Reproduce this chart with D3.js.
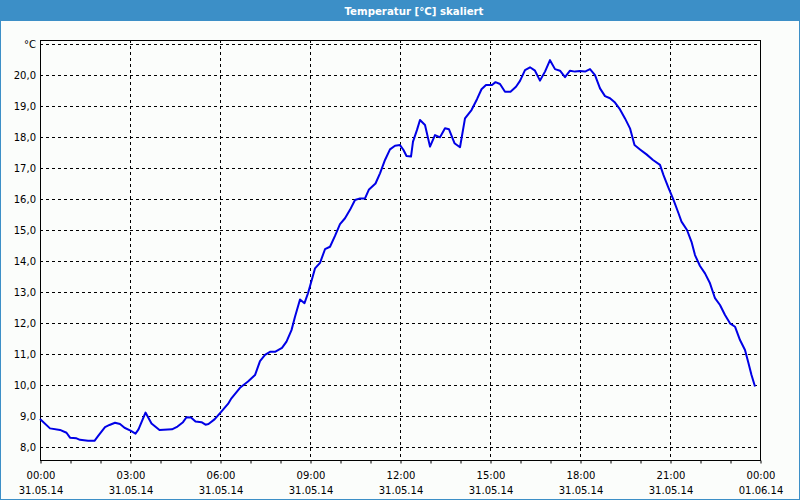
<!DOCTYPE html>
<html><head><meta charset="utf-8">
<script src="https://cdn.jsdelivr.net/npm/d3@7"></script>
<style>html,body{margin:0;padding:0;background:#fbfdfb;}svg{display:block;}</style>
</head><body>
<script>
const title = "Temperatur [°C] skaliert";
const unitLabel = "°C";
const times = ["00:00","00:20","00:40","00:53","01:00","01:13","01:20","01:36","01:49","01:56","02:10","02:19","02:30","02:40","02:49","03:01","03:11","03:17","03:31","03:43","03:59","04:24","04:35","04:46","04:53","05:02","05:11","05:23","05:31","05:37","05:49","06:01","06:16","06:22","06:40","06:56","07:10","07:20","07:30","07:40","07:50","08:04","08:13","08:23","08:30","08:40","08:49","08:56","09:10","09:20","09:30","09:40","09:50","10:00","10:10","10:20","10:30","10:40","10:50","10:58","11:11","11:20","11:30","11:40","11:50","12:00","12:07","12:13","12:22","12:26","12:34","12:40","12:50","13:00","13:10","13:20","13:30","13:38","13:49","14:00","14:10","14:23","14:34","14:43","14:52","15:04","15:11","15:20","15:30","15:41","15:52","16:00","16:10","16:20","16:30","16:40","16:50","17:00","17:10","17:20","17:30","17:40","17:50","18:00","18:10","18:20","18:30","18:40","18:50","19:00","19:10","19:20","19:30","19:40","19:49","20:00","20:13","20:26","20:40","20:47","20:56","21:07","21:17","21:23","21:34","21:43","21:50","22:00","22:10","22:20","22:30","22:40","22:50","23:00","23:10","23:20","23:30","23:37","23:43","23:50"];
const temps = [8.90,8.60,8.55,8.46,8.30,8.28,8.23,8.20,8.20,8.35,8.64,8.71,8.78,8.74,8.62,8.53,8.43,8.57,9.11,8.76,8.55,8.57,8.66,8.80,8.96,8.95,8.82,8.80,8.72,8.74,8.89,9.11,9.39,9.55,9.91,10.11,10.32,10.77,10.97,11.07,11.07,11.20,11.40,11.77,12.20,12.76,12.64,12.96,13.76,13.94,14.38,14.46,14.81,15.19,15.38,15.65,15.97,16.02,16.02,16.31,16.50,16.83,17.26,17.60,17.72,17.74,17.58,17.39,17.37,17.85,18.23,18.55,18.39,17.69,18.06,17.99,18.28,18.25,17.80,17.67,18.60,18.87,19.22,19.54,19.68,19.68,19.77,19.71,19.46,19.46,19.62,19.81,20.16,20.25,20.14,19.82,20.11,20.48,20.19,20.14,19.93,20.14,20.11,20.13,20.11,20.19,20.00,19.57,19.32,19.25,19.11,18.89,18.60,18.28,17.74,17.60,17.44,17.26,17.10,16.77,16.40,15.97,15.54,15.27,15.00,14.62,14.19,13.84,13.60,13.28,12.80,12.58,12.26,11.99,11.88,11.45,11.13,10.70,10.32,9.95];
const yTicks = [8,9,10,11,12,13,14,15,16,17,18,19,20];
const xTickTimes = ["31.05.14 00:00","31.05.14 03:00","31.05.14 06:00","31.05.14 09:00","31.05.14 12:00","31.05.14 15:00","31.05.14 18:00","31.05.14 21:00","01.06.14 00:00"];
const day = "31.05.14";
const yDomain = [7.58, 21.13];
const xDomain = ["31.05.14 00:00","01.06.14 00:00"];

const W = 800, H = 500;
const m = {left:40, right:760, top:40, bottom:460};
const parse = d3.timeParse("%d.%m.%y %H:%M");
const data = times.map((t,i)=>({t:parse(day+" "+t), v:temps[i]}));

const svg = d3.select("body").append("svg").attr("width",W).attr("height",H);
const barColor = "#3c8fc7";
svg.append("rect").attr("x",0).attr("y",0).attr("width",W).attr("height",H).attr("fill","#fbfdfb");
svg.append("rect").attr("x",0).attr("y",0).attr("width",W).attr("height",21).attr("fill",barColor);
svg.append("rect").attr("x",0.5).attr("y",0.5).attr("width",W-1).attr("height",H-1).attr("fill","none").attr("stroke",barColor);
svg.append("text").attr("x",414).attr("y",15).attr("text-anchor","middle")
  .attr("font-family","DejaVu Sans").attr("font-weight","bold").attr("font-size",11)
  .attr("textLength",139).attr("lengthAdjust","spacingAndGlyphs")
  .attr("fill","#ffffff").text(title);

const x = d3.scaleTime().domain(xDomain.map(parse)).range([m.left,m.right]);
const y = d3.scaleLinear().domain(yDomain).range([m.bottom,m.top]);

const g = svg.append("g");
// horizontal grid
const gridY = yTicks.concat([21]);
g.selectAll(".hg").data(gridY).join("line")
  .attr("x1",m.left).attr("x2",m.right)
  .attr("y1",d=>Math.round(y(d))+0.5).attr("y2",d=>Math.round(y(d))+0.5)
  .attr("stroke","#000").attr("stroke-dasharray","3,3").attr("stroke-width",1);
// vertical grid
const xt = xTickTimes.map(parse);
g.selectAll(".vg").data(xt.slice(1,-1)).join("line")
  .attr("x1",d=>Math.round(x(d))+0.5).attr("x2",d=>Math.round(x(d))+0.5)
  .attr("y1",m.top).attr("y2",m.bottom)
  .attr("stroke","#000").attr("stroke-dasharray","3,3").attr("stroke-width",1);

// frame
svg.append("rect").attr("x",m.left+0.5).attr("y",m.top+0.5)
  .attr("width",m.right-m.left).attr("height",m.bottom-m.top)
  .attr("fill","none").attr("stroke","#000");

// x axis minor ticks (hourly)
const hours = d3.timeHour.range(xt[0], d3.timeMinute.offset(xt[xt.length-1],1));
const xAxis = d3.axisBottom(x).tickValues(hours).tickSize(3).tickFormat("");
const xa = svg.append("g").attr("transform",`translate(0.5,${m.bottom+0.5})`).call(xAxis);
xa.select(".domain").remove();
xa.selectAll("line").attr("stroke","#000");

// x labels
const fmtT = d3.timeFormat("%H:%M"), fmtD = d3.timeFormat("%d.%m.%y");
const lab = svg.append("g").attr("font-family","DejaVu Sans").attr("font-size",10).attr("fill","#000");
lab.selectAll(".tl").data(xt).join("text").attr("x",d=>x(d)+1).attr("y",479).attr("text-anchor","middle").text(fmtT);
lab.selectAll(".dl").data(xt).join("text").attr("x",d=>x(d)+1).attr("y",494).attr("text-anchor","middle").text(fmtD);

// y labels
const fmtY = v => d3.format(".1f")(v).replace(".",",");
lab.selectAll(".yl").data(yTicks).join("text").attr("x",36).attr("y",d=>y(d)+4).attr("text-anchor","end").text(fmtY);
lab.append("text").attr("x",36).attr("y",y(21)+4).attr("text-anchor","end").text(unitLabel);

// line
const line = d3.line().x(d=>x(d.t)).y(d=>y(d.v));
svg.append("path").datum(data).attr("d",line).attr("fill","none")
  .attr("stroke","#0000e6").attr("stroke-width",2).attr("stroke-linejoin","round");
</script>
</body></html>
